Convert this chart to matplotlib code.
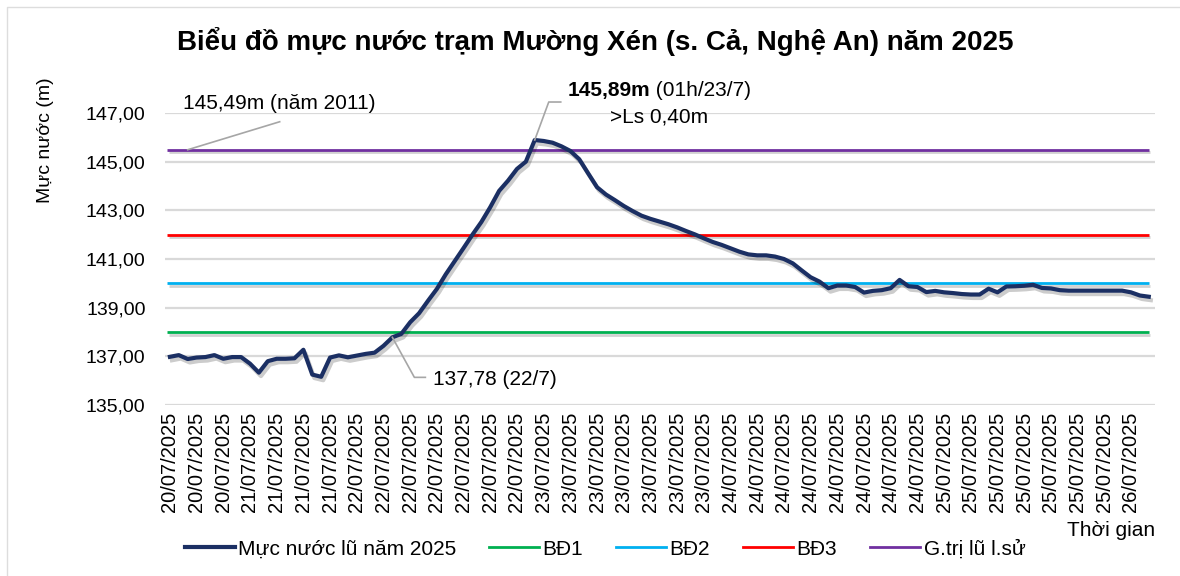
import matplotlib
matplotlib.use("Agg")
import matplotlib.pyplot as plt
import matplotlib.patheffects as pe
from matplotlib.lines import Line2D
import numpy as np

plt.rcParams['font.family'] = ['Liberation Sans', 'DejaVu Sans']

# ---------------- data ----------------
water_level = [
    136.98, 137.05, 136.89, 136.95, 136.97, 137.05, 136.90, 136.97, 136.97, 136.70,
    136.33, 136.80, 136.90, 136.90, 136.92, 137.27, 136.25, 136.16, 136.95, 137.04,
    136.96, 137.03, 137.10, 137.15, 137.43, 137.78, 137.92, 138.40, 138.77, 139.28,
    139.77, 140.37, 140.91, 141.45, 142.00, 142.52, 143.13, 143.80, 144.22, 144.70,
    145.00, 145.89, 145.85, 145.78, 145.63, 145.44, 145.10, 144.52, 143.95, 143.65,
    143.42, 143.18, 142.97, 142.78, 142.65, 142.54, 142.43, 142.30, 142.15, 142.01,
    141.85, 141.70, 141.58, 141.44, 141.30, 141.19, 141.15, 141.15, 141.10, 141.00,
    140.82, 140.53, 140.25, 140.07, 139.80, 139.91, 139.91, 139.85, 139.62, 139.69,
    139.72, 139.80, 140.14, 139.88, 139.85, 139.64, 139.69, 139.63, 139.60, 139.56,
    139.54, 139.54, 139.78, 139.63, 139.87, 139.88, 139.90, 139.94, 139.81, 139.79,
    139.72, 139.70, 139.70, 139.70, 139.70, 139.70, 139.70, 139.70, 139.63, 139.50,
    139.45,
]
tick_dates = (["20/07/2025"] * 3 + ["21/07/2025"] * 4 + ["22/07/2025"] * 7 +
              ["23/07/2025"] * 7 + ["24/07/2025"] * 8 + ["25/07/2025"] * 7 +
              ["26/07/2025"] * 1)
tick_step = 3
bd1, bd2, bd3, hist_max = 138.0, 140.0, 142.0, 145.49
peak_idx, cross_idx, hist_idx = 41, 25, 2
series_names = ["Mực nước lũ năm 2025", "BĐ1", "BĐ2", "BĐ3", "G.trị lũ l.sử"]
y_ticks = [135, 137, 139, 141, 143, 145, 147]

# ---------------- figure ----------------
W, H = 1180, 576
fig = plt.figure(figsize=(W / 100, H / 100), dpi=100)
fig.patch.set_facecolor("white")
# faint chart frame (top / left edges visible in reference)
fig.add_artist(Line2D([7, 7, W + 5], [-5, H - 7, H - 7], transform=None,
                      color="#DDDDDD", lw=1.0))
ax = fig.add_axes([165 / W, 1 - 405 / H, (1155 - 165) / W, (405 - 113) / H])

n = len(water_level)
x = np.arange(n)
ax.set_xlim(-0.55, n - 0.3)
ax.set_ylim(135, 147)

shadow = [pe.SimpleLineShadow(offset=(1.2, -1.8), alpha=0.18, shadow_color="black"), pe.Normal()]
colors = ["#1B2F63", "#00B050", "#00B0F0", "#FF0000", "#7030A0"]
levels = [bd1, bd2, bd3, hist_max]
for lvl, c in zip(levels, colors[1:]):
    ax.plot([x[0] - 0.3, x[-1]], [lvl, lvl], color=c, lw=2.0, solid_capstyle="butt",
            path_effects=shadow, zorder=3)
ax.plot(x, water_level, color=colors[0], lw=3.0, solid_joinstyle="round",
        path_effects=[pe.SimpleLineShadow(offset=(1.5, -2.5), alpha=0.2), pe.Normal()], zorder=4)

ax.set_yticks(y_ticks)
ax.set_yticklabels([f"{v:.2f}".replace(".", ",") for v in y_ticks], fontsize=14)
ax.yaxis.grid(True, color="#D9D9D9", lw=1.6)
ax.set_axisbelow(True)
ax.tick_params(axis="y", length=0, pad=14)
ticks_x = list(range(0, n, tick_step))[:len(tick_dates)]
ax.set_xticks(ticks_x)
ax.set_xticklabels(tick_dates, rotation=90, fontsize=14.5, va="top")
ax.tick_params(axis="x", length=0, pad=5)
for s in ax.spines.values():
    s.set_visible(False)

# titles and labels
fig.text(595 / W, 1 - 42 / H, "Biểu đồ mực nước trạm Mường Xén (s. Cả, Nghệ An) năm 2025",
         ha="center", va="center", fontsize=20, fontweight="bold")
fig.text(45 / W, 1 - 140 / H, "Mực nước (m)", rotation=90, ha="center", va="center", fontsize=14)
fig.text(1155 / W, 1 - 531 / H, "Thời gian", ha="right", va="center", fontsize=15)

# legend
handles = [Line2D([], [], color=c, lw=3.0 if i == 0 else 2.0) for i, c in enumerate(colors)]
fig.legend(handles, series_names, loc="center", bbox_to_anchor=(605 / W, 1 - 549 / H),
           ncol=5, frameon=False, fontsize=15, handlelength=2.4, handletextpad=0.15,
           columnspacing=1.6)

# annotations with leader lines (computed from data points)
fig.canvas.draw()
renderer = fig.canvas.get_renderer()
def disp(ix, iy):
    return ax.transData.transform((ix, iy))

gray = "#A6A6A6"
def leader(pts):
    xs = [p[0] for p in pts]
    ys = [p[1] for p in pts]
    fig.add_artist(Line2D(xs, ys, transform=None, color=gray, lw=1.2, zorder=6))

# historical max
hx, hy = disp(hist_idx, hist_max)
leader([(hx, hy), (hx + 92, hy + 28)])
fig.text((hx - 5) / W, (hy + 46) / H, "145,49m (năm 2011)", ha="left", va="center", fontsize=15)

# peak
px_, py_ = disp(peak_idx, water_level[peak_idx])
leader([(px_, py_), (px_ + 14, py_ + 38), (px_ + 26, py_ + 38)])
t_bold = fig.text((px_ + 33) / W, (py_ + 50) / H, "145,89m", ha="left", va="center",
                  fontsize=15, fontweight="bold")
bb = t_bold.get_window_extent(renderer)
fig.text(bb.x1 / W, (py_ + 50) / H, " (01h/23/7)", ha="left", va="center", fontsize=15)
fig.text((px_ + 75) / W, (py_ + 23) / H, ">Ls 0,40m", ha="left", va="center", fontsize=15)

# crossing BĐ1
cx, cy = disp(cross_idx, water_level[cross_idx])
leader([(cx, cy), (cx + 22, cy - 40), (cx + 33, cy - 40)])
fig.text((cx + 41) / W, (cy - 42) / H, "137,78 (22/7)", ha="left", va="center", fontsize=15)

fig.savefig("out.png", dpi=100)
